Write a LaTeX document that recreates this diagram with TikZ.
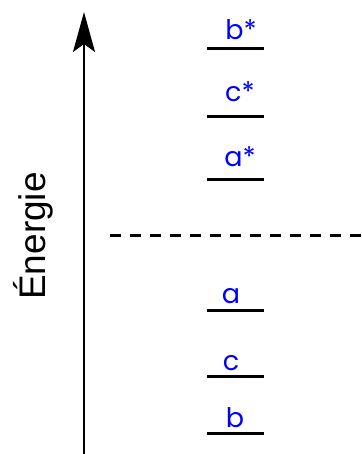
\documentclass[tikz,border=0pt]{standalone}
\usepackage{fontspec}
\newfontfamily\labelfont{Poppins}
\newfontfamily\axisfont{Liberation Sans}
\usetikzlibrary{arrows.meta}

\begin{document}
\begin{tikzpicture}[x=1pt, y=-1pt,
    level/.style={line width=3pt},
    lbl/.style={anchor=base, text=blue, inner sep=0pt, font=\labelfont\fontsize{27}{29}\selectfont}]
  \useasboundingbox (0,0) rectangle (361,454);
  % --- energy axis ---
  \coordinate (axisbot) at (84,454);
  \coordinate (axistop) at (84,12);
  \draw[line width=2pt, -{Stealth[length=40pt, width=22pt, inset=8pt]}] (axisbot) -- (axistop);
  \node[rotate=90, font=\axisfont\fontsize{37}{40}\selectfont] (energy) at (33,236) {Énergie};
  % --- separation ---
  \coordinate (dashL) at (110,235.5);
  \coordinate (dashR) at (361,235.5);
  \draw[line width=3pt, dash pattern=on 10.5pt off 9.5pt] (dashL) -- (dashR);
  % --- levels ---
  \foreach \y in {49,117,180,310,376,433}{
    \draw[level] (207,\y) -- (264,\y);
  }
  % --- labels ---
  \node[lbl] (bstar) at (241,40) {b*};
  \node[lbl] (cstar) at (240,102) {c*};
  \node[lbl] (astar) at (240,167) {a*};
  \node[lbl] (a) at (231,303) {a};
  \node[lbl] (c) at (231,370) {c};
  \node[lbl] (b) at (235,427) {b};
\end{tikzpicture}
\end{document}
